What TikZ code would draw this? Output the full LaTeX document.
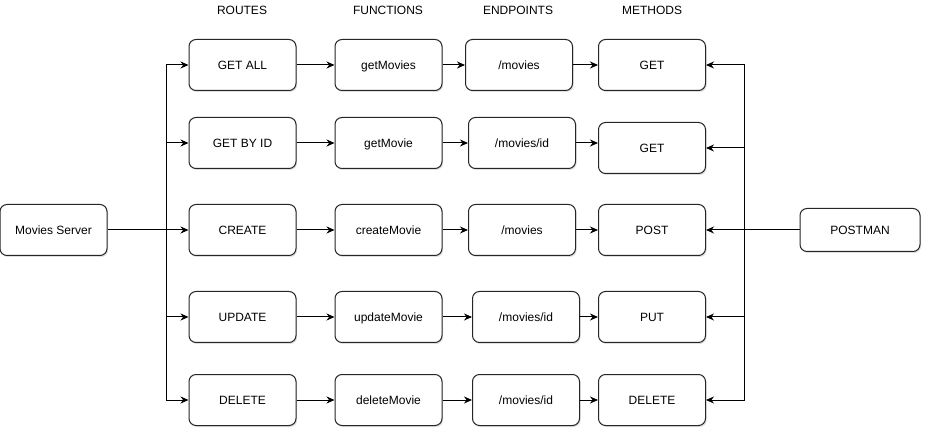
\documentclass[tikz,border=0pt]{standalone}
\usepackage{fontspec}
\setmainfont{Liberation Sans}
\usepackage{tikz}
\usetikzlibrary{arrows.meta,shadows}

\begin{document}
\begin{tikzpicture}[x=1pt,y=-1pt,
    box/.style={draw=black!85, fill=white, line width=1pt, rounded corners=7pt,
      minimum width=107pt, minimum height=51pt, inner sep=0pt,
      text height=9pt, text depth=0.5pt,
      font=\fontsize{12}{14}\selectfont,
      drop shadow={shadow xshift=1.2pt, shadow yshift=-1.5pt, opacity=.25}},
    head/.style={font=\fontsize{12}{14}\selectfont},
    arr/.style={-{Stealth[length=8pt,width=7pt]}, line width=1pt}]
    \useasboundingbox (0,0) rectangle (932,438);

    % column titles
    \node[head] at (242,10) {ROUTES};
    \node[head] at (388,10) {FUNCTIONS};
    \node[head] at (518,10) {ENDPOINTS};
    \node[head] at (652,10) {METHODS};

    \node[box] (srv) at (53.5,230) {Movies Server};
    \node[box, minimum width=120pt, minimum height=43pt] (pm) at (860,230) {POSTMAN};

    % routes, functions, endpoints, methods
    \foreach \i/\y/\ex/\my/\r/\f/\e/\m in {
        1/65/519/65/GET ALL/getMovies/{/movies}/GET,
        2/143/522/148/GET BY ID/getMovie/{/movies/id}/GET,
        3/230/522/230/CREATE/createMovie/{/movies}/POST,
        4/317/526/317/UPDATE/updateMovie/{/movies/id}/PUT,
        5/400/526/400/DELETE/deleteMovie/{/movies/id}/DELETE} {
      \node[box] (r\i) at (242.5,\y) {\r};
      \node[box] (f\i) at (388.5,\y) {\f};
      \node[box] (e\i) at (\ex,\y) {\e};
      \node[box] (m\i) at (652,\my) {\m};
    }

    \coordinate (lb) at (166,230);
    \coordinate (rb) at (744,230);
    \draw[line width=1pt] (srv.east) -- (lb);
    \draw[line width=1pt] (pm.west) -- (rb);

    \foreach \i in {1,...,5} {
      \draw[arr] (lb) |- (r\i.west);
      \draw[arr] (r\i.east) -- (f\i.west);
      \draw[arr] (f\i.east) -- (e\i.west);
      \draw[arr] (e\i.east) -- (e\i.east -| m\i.west);
      \draw[arr] (rb) |- (m\i.east);
    }

      % \draw[help lines] (0,0) grid[step=50] (932,438);
\end{tikzpicture}
\end{document}
